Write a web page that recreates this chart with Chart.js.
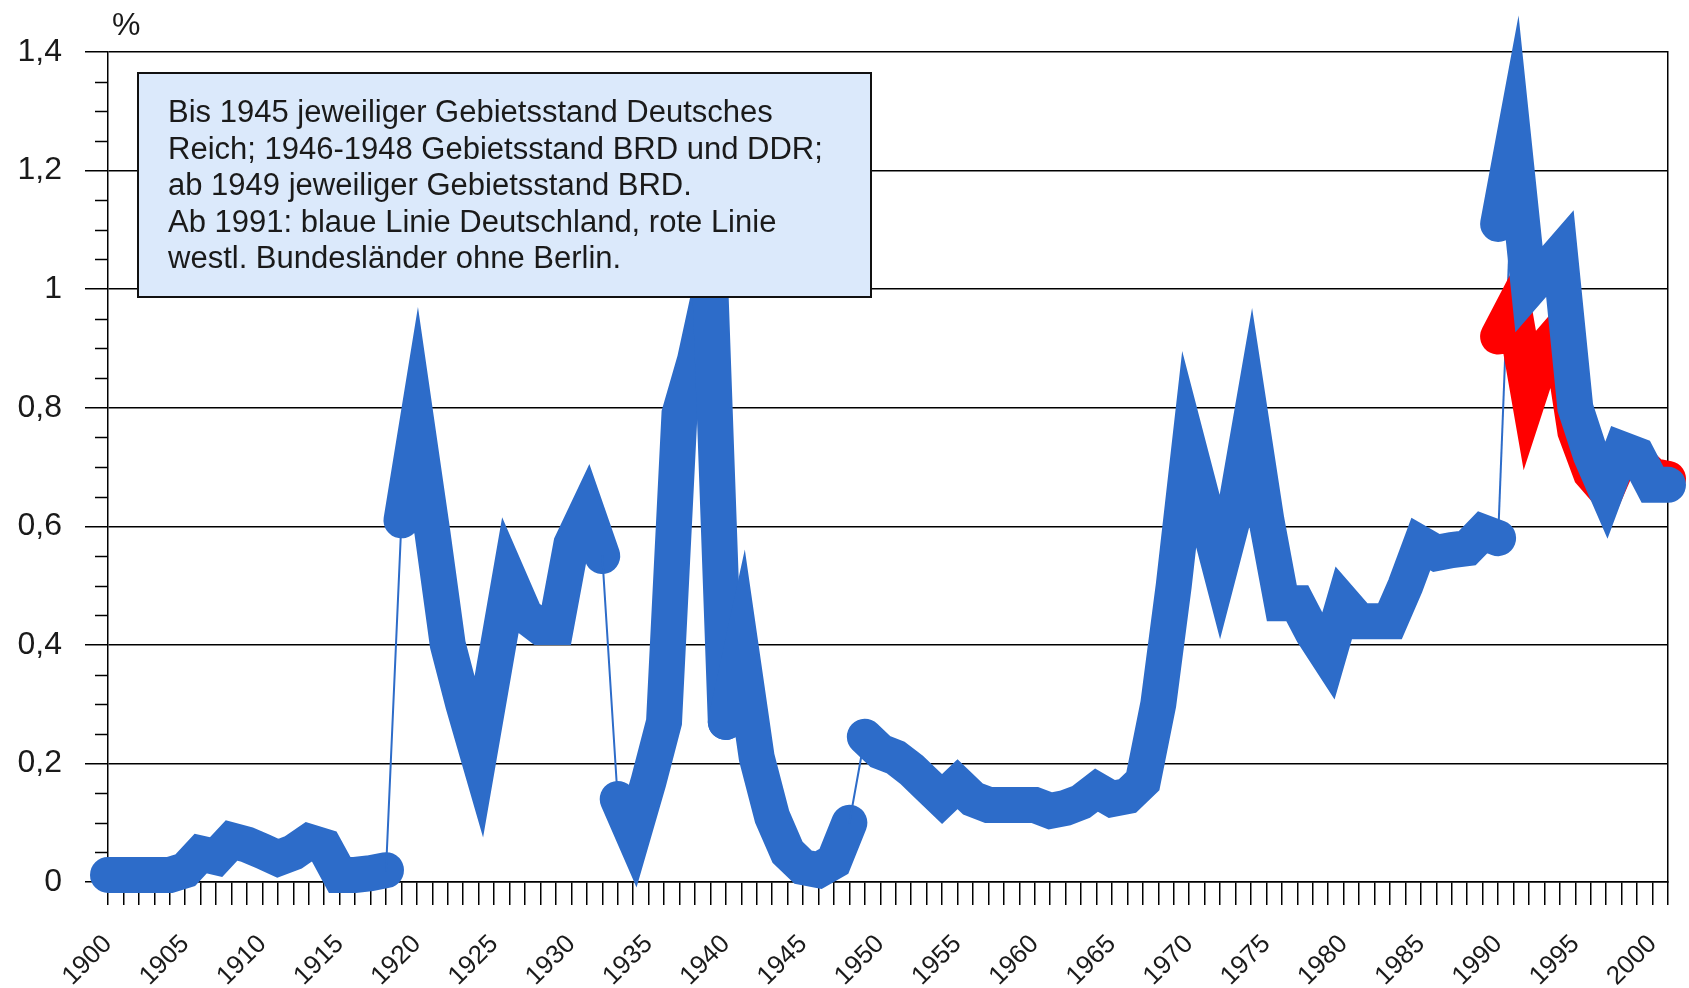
<!DOCTYPE html>
<html lang="de">
<head>
<meta charset="utf-8">
<title>Anteil in %, 1900-2001</title>
<script src="https://cdn.jsdelivr.net/npm/chart.js@4.4.1/dist/chart.umd.min.js"></script>
<style>
  html, body { margin: 0; padding: 0; background: #fff; }
  #wrap { position: relative; width: 1689px; height: 988px; }
</style>
</head>
<body>
<div id="wrap"><canvas id="lineChart"></canvas></div>
<script>
// Jahre der Kategorienachse
const jahre = [];
for (let j = 1900; j <= 2001; j++) jahre.push(String(j));

// 1900-1990 (blau, bis 1990 jeweiliger Gebietsstand)
const blauBis1990 = [
  0.012, 0.012, 0.012, 0.012, 0.012, 0.02, 0.048, 0.042, 0.07, 0.063,   // 1900-1909
  0.052, 0.04, 0.05, 0.068, 0.06, 0.012, 0.012, 0.015, 0.02, 0.61,      // 1910-1919
  0.77, 0.59, 0.40, 0.30, 0.21, 0.36, 0.51, 0.45, 0.43, 0.43,           // 1920-1929
  0.57, 0.625, 0.55, 0.14, 0.08, 0.17, 0.27, 0.79, 0.88, 1.0,           // 1930-1939
  0.27, 0.39, 0.21, 0.11, 0.05, 0.025, 0.02, 0.035, 0.10, 0.245,        // 1940-1949
  0.22, 0.21, 0.19, 0.165, 0.14, 0.165, 0.14, 0.13, 0.13, 0.13,         // 1950-1959
  0.13, 0.12, 0.125, 0.135, 0.155, 0.14, 0.145, 0.17, 0.30, 0.50,       // 1960-1969
  0.73, 0.63, 0.53, 0.63, 0.78, 0.61, 0.47, 0.47, 0.42, 0.38,           // 1970-1979
  0.47, 0.44, 0.44, 0.44, 0.50, 0.57, 0.555, 0.56, 0.563, 0.59,         // 1980-1989
  0.58                                                                  // 1990
];
// 1990-2001 blaue Linie Deutschland
const blauDeutschland = [1.11, 1.25, 1.0, 1.03, 1.06, 0.80, 0.72, 0.66, 0.73, 0.72, 0.67, 0.67];
// 1990-2001 rote Linie westl. Bundeslaender ohne Berlin
const rotWest = [0.92, 0.97, 0.82, 0.90, 0.93, 0.76, 0.69, 0.66, 0.72, 0.71, 0.685, 0.68];

// duenne Verbindungen zwischen den Gebietsstaenden (Startjahr des Abschnitts)
const brueche = ['1918', '1932', '1948'];
// Abschnitt, der ohne Spitzenverbindung gezeichnet wird
const einzelAbschnitt = ['1939'];

const yBeschriftung = ['0', '0,2', '0,4', '0,6', '0,8', '1', '1,2', '1,4'];

const hinweis = [
  'Bis 1945 jeweiliger Gebietsstand Deutsches',
  'Reich; 1946-1948 Gebietsstand BRD und DDR;',
  'ab 1949 jeweiliger Gebietsstand BRD.',
  'Ab 1991: blaue Linie Deutschland, rote Linie',
  'westl. Bundesländer ohne Berlin.'
];

const BLAU = '#2d6cc9';
const ROT = '#ff0000';
const SCHRIFT = '"Liberation Sans", Arial, sans-serif';

function initChart() {
  const ctx = document.getElementById('lineChart');
  if (!ctx) return;

  const start1990 = jahre.indexOf('1990');
  const aufAchse = (werte, ab) => jahre.map((j, i) => (i >= ab && i - ab < werte.length) ? werte[i - ab] : null);

  const serieAlt = aufAchse(blauBis1990, 0);
  const serieD = aufAchse(blauDeutschland, start1990);
  const serieW = aufAchse(rotWest, start1990);
  // Uebergang 1990 (alter Gebietsstand) -> 1991 (Deutschland)
  const serieUebergang = jahre.map((j, i) => {
    if (i === start1990) return blauBis1990[blauBis1990.length - 1];
    if (i === start1990 + 1) return blauDeutschland[1];
    return null;
  });

  const dick = 36;

  const zusatz = {
    id: 'zusatz',
    beforeDatasetsDraw(chart) {
      // kleine Zwischenstriche an der y-Achse
      const y = chart.scales.y;
      const c = chart.ctx;
      c.save();
      c.strokeStyle = '#000';
      c.lineWidth = 1.5;
      for (let k = 1; k < 28; k++) {
        if (k % 4 === 0) continue;
        const py = Math.round(y.getPixelForValue(k * 0.05)) + 0.5;
        c.beginPath();
        c.moveTo(y.right - 13, py);
        c.lineTo(y.right, py);
        c.stroke();
      }
      c.restore();
    },
    afterDatasetsDraw(chart) {
      const c = chart.ctx;
      c.save();
      // Hinweiskasten
      c.fillStyle = '#dbe9fb';
      c.strokeStyle = '#111';
      c.lineWidth = 2;
      c.fillRect(138, 73, 733, 224);
      c.strokeRect(138, 73, 733, 224);
      c.fillStyle = '#1a1a1a';
      c.font = '31px ' + SCHRIFT;
      c.textBaseline = 'alphabetic';
      c.textAlign = 'left';
      hinweis.forEach((z, i) => c.fillText(z, 168, 122 + i * 36.6));
      // Einheit
      c.font = '32px ' + SCHRIFT;
      c.fillText('%', 112, 35);
      c.restore();
    }
  };

  new Chart(ctx, {
    type: 'line',
    data: {
      labels: jahre,
      datasets: [
        {
          label: 'Deutschland',
          data: serieD,
          borderColor: BLAU,
          borderWidth: dick,
          borderCapStyle: 'round',
          borderJoinStyle: 'miter',
          pointRadius: 0,
          spanGaps: false,
          clip: false
        },
        {
          label: 'bis 1990',
          data: serieAlt,
          borderColor: BLAU,
          borderWidth: dick,
          borderCapStyle: 'round',
          borderJoinStyle: 'miter',
          pointRadius: 0,
          spanGaps: false,
          clip: false,
          segment: {
            borderWidth: c => brueche.includes(jahre[c.p0DataIndex]) ? 2 : undefined,
            borderJoinStyle: c => einzelAbschnitt.includes(jahre[c.p0DataIndex]) ? 'round' : undefined
          }
        },
        {
          label: 'westl. Bundesländer ohne Berlin',
          data: serieW,
          borderColor: ROT,
          borderWidth: dick,
          borderCapStyle: 'round',
          borderJoinStyle: 'miter',
          pointRadius: 0,
          spanGaps: false,
          clip: false
        },
        {
          label: 'Übergang',
          data: serieUebergang,
          borderColor: BLAU,
          borderWidth: 2,
          pointRadius: 0,
          spanGaps: false,
          clip: false
        }
      ]
    },
    options: {
      responsive: true,
      maintainAspectRatio: false,
      animation: false,
      devicePixelRatio: 1,
      layout: { padding: { top: 52, right: 21, left: 0, bottom: 0 } },
      plugins: {
        legend: { display: false },
        tooltip: { enabled: false }
      },
      scales: {
        x: {
          offset: false,
          afterFit: s => {
            s.height = 106;
            s.paddingLeft = 0;
            s.paddingRight = 0;
          },
          grid: {
            display: true,
            drawOnChartArea: false,
            drawTicks: true,
            tickLength: 23,
            color: '#000',
            lineWidth: 1.5
          },
          border: { display: true, color: '#000', width: 1.5 },
          ticks: {
            autoSkip: false,
            maxRotation: 45,
            minRotation: 45,
            padding: 24,
            labelOffset: 0,
            color: '#1a1a1a',
            font: { family: SCHRIFT, size: 26 },
            callback: function (value) {
              const l = this.getLabelForValue(value);
              return Number(l) % 5 === 0 ? l : '';
            }
          }
        },
        y: {
          min: 0,
          max: 1.4,
          afterFit: s => { s.width = 108; },
          grid: {
            color: '#000',
            lineWidth: 1.5,
            drawTicks: true,
            tickLength: 23
          },
          border: { display: true, color: '#000', width: 1.5 },
          ticks: {
            stepSize: 0.2,
            padding: 23,
            color: '#1a1a1a',
            font: { family: SCHRIFT, size: 32 },
            callback: v => yBeschriftung[Math.round(v / 0.2)]
          }
        },
        y2: {
          position: 'right',
          min: 0,
          max: 1.4,
          afterFit: s => { s.width = 0; },
          grid: { display: false },
          ticks: { display: false },
          border: { display: true, color: '#000', width: 1.5 }
        }
      }
    },
    plugins: [zusatz]
  });
}

if (document.readyState === 'complete') {
  initChart();
} else {
  window.addEventListener('load', initChart);
}
</script>
</body>
</html>
